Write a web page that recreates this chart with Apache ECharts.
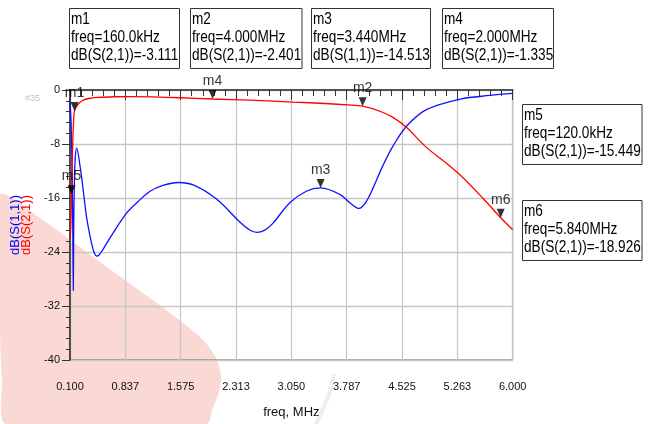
<!DOCTYPE html>
<html>
<head>
<meta charset="utf-8">
<script src="https://cdn.jsdelivr.net/npm/echarts@6/dist/echarts.min.js"></script>
<style>
  html, body { margin: 0; padding: 0; background: #ffffff; }
  #chart { width: 659px; height: 424px; }
</style>
</head>
<body>
<div id="chart"></div>
<script>
// Sweep start (MHz); the x axis runs in MHz above this start so the
// major ticks land on the 0.7375 MHz grid.
const FREQ_START = 0.1;
const FREQ_STEP = 0.7375;
const xTickLabels = ['0.100', '0.837', '1.575', '2.313', '3.050', '3.787', '4.525', '5.263', '6.000'];

// dB(S(1,1)) — input reflection
const s11Freq = [0.100, 0.115, 0.128, 0.138, 0.144, 0.150, 0.158, 0.170, 0.189, 0.233, 0.278, 0.322, 0.389, 0.425,
  0.456, 0.490, 0.540, 0.650, 0.856, 1.000, 1.167, 1.350, 1.544, 1.750, 2.056, 2.367, 2.490, 2.590, 2.690,
  2.800, 3.030, 3.250, 3.440, 3.700, 3.850, 3.950, 4.050, 4.140, 4.270, 4.410, 4.590, 4.850, 5.300, 5.700, 6.000];
const s11Db = [-1.5, -5.0, -12.0, -22.0, -29.7, -20.0, -14.0, -10.0, -8.6, -11.2, -15.0, -18.9, -22.8, -24.2,
  -24.6, -24.4, -23.6, -21.6, -18.2, -16.6, -15.0, -14.1, -13.7, -14.1, -16.2, -19.6, -20.7, -21.1, -20.8,
  -19.8, -16.7, -15.0, -14.513, -15.5, -16.9, -17.55, -16.5, -14.5, -11.2, -8.2, -5.3, -2.9, -1.35, -0.8, -0.5];

// dB(S(2,1)) — forward transmission
const s21Freq = [0.100, 0.110, 0.120, 0.130, 0.140, 0.150, 0.160, 0.193, 0.260, 0.350, 0.480, 0.700, 0.900,
  1.200, 1.567, 2.000, 2.500, 3.077, 3.500, 3.800, 4.000, 4.230, 4.410, 4.590, 4.850, 5.100, 5.300, 5.600,
  5.840, 6.000];
const s21Db = [-22.0, -20.5, -15.449, -10.5, -6.5, -4.2, -3.111, -2.33, -1.6, -1.26, -1.1, -1.0, -0.98,
  -1.02, -1.15, -1.335, -1.5, -1.79, -2.0, -2.2, -2.401, -3.15, -4.1, -5.6, -8.5, -10.7, -12.6, -16.0,
  -18.926, -20.7];

// Markers
const markerNames = ['m1', 'm2', 'm3', 'm4', 'm5', 'm6'];
const markerFreq = [0.16, 4.0, 3.44, 2.0, 0.12, 5.84];
const markerFreqText = ['160.0kHz', '4.000MHz', '3.440MHz', '2.000MHz', '120.0kHz', '5.840MHz'];
const markerTrace = ['dB(S(2,1))', 'dB(S(2,1))', 'dB(S(1,1))', 'dB(S(2,1))', 'dB(S(2,1))', 'dB(S(2,1))'];
const markerDb = [-3.111, -2.401, -14.513, -1.335, -15.449, -18.926];

// Readout box placement: [left, top, width]
const readoutBoxes = [
  [69.5, 8.5, 110], [190.5, 8.5, 111.5], [311.5, 8.5, 119], [442.5, 8.5, 111],
  [522.5, 104.5, 119.5], [522.5, 200.5, 119.5]
];
const READOUT_H = 60;

const FONT = "'Liberation Sans', Arial, Helvetica, sans-serif";
const toXY = (f, d) => [f - FREQ_START, d];

const graphics = [];

// Pale logo shape sitting behind the plot
graphics.push({
  type: 'polygon', z: -10, silent: true,
  shape: { points: [[0, 195], [40, 218], [100, 262], [150, 298], [187, 326], [205, 342], [216, 358],
    [221, 375], [219, 392], [212, 410], [207, 424], [6, 424], [2, 380], [0, 330]], smooth: 0.25 },
  style: { fill: '#fad8d3' }
});
graphics.push({
  type: 'polyline', z: -10, silent: true,
  shape: { points: [[334, 374], [329, 394], [322, 411], [316, 424]], smooth: 0.4 },
  style: { stroke: '#eeeeee', lineWidth: 4, fill: null }
});
graphics.push({
  type: 'text', z: -5, silent: true, x: 25, y: 94,
  style: { text: '#35', fontSize: 9, fontFamily: FONT, fill: 'rgba(140,140,140,0.55)',
    shadowBlur: 3, shadowColor: 'rgba(140,140,140,0.8)' }
});

// Marker readout boxes
markerNames.forEach((name, i) => {
  const [bx, by, bw] = readoutBoxes[i];
  graphics.push({
    type: 'rect', z: 100, silent: true,
    shape: { x: bx, y: by, width: bw, height: READOUT_H },
    style: { fill: '#ffffff', stroke: '#333333', lineWidth: 1 }
  });
  graphics.push({
    type: 'text', z: 101, silent: true,
    x: bx + 1.5, y: by + 2.2, scaleX: 0.8,
    style: {
      text: name + '\nfreq=' + markerFreqText[i] + '\n' + markerTrace[i] + '=' + markerDb[i].toFixed(3),
      fontSize: 17, fontFamily: FONT, fill: '#000000', lineHeight: 17.7,
      align: 'left', verticalAlign: 'top'
    }
  });
});

const chart = echarts.init(document.getElementById('chart'), null, { renderer: 'canvas' });

chart.setOption({
  animation: false,
  backgroundColor: '#ffffff',
  textStyle: { fontFamily: FONT },
  grid: {
    left: 70, top: 90, right: 146.3, bottom: 59,
    show: true, borderColor: '#555555', borderWidth: 1, backgroundColor: 'transparent'
  },
  xAxis: {
    type: 'value', min: 0, max: 6.0 - FREQ_START, interval: FREQ_STEP,
    name: 'freq, MHz', nameLocation: 'middle', nameGap: 46,
    nameTextStyle: { fontSize: 13, color: '#111111', fontFamily: FONT },
    axisLine: { show: true, lineStyle: { color: '#333333', width: 1.6 } },
    axisTick: { show: true, length: 10, lineStyle: { color: '#333333', width: 1 } },
    minorTick: { show: true, splitNumber: 5, length: 6, lineStyle: { color: '#333333', width: 1 } },
    splitLine: { show: true, lineStyle: { color: '#c8c8c8', width: 1.3 } },
    axisLabel: {
      fontSize: 11, color: '#111111', margin: 21, fontFamily: FONT,
      showMinLabel: true, showMaxLabel: true,
      formatter: v => xTickLabels[Math.round(v / FREQ_STEP)]
    }
  },
  yAxis: {
    type: 'value', min: -40, max: 0, interval: 8,
    name: '{a|dB(S(1,1))}\n{b|dB(S(2,1))}', nameLocation: 'middle', nameRotate: 90, nameGap: 33,
    nameTextStyle: {
      fontFamily: FONT,
      rich: {
        a: { color: '#0000ff', fontSize: 13, lineHeight: 11.5, fontFamily: FONT },
        b: { color: '#ff0000', fontSize: 13, lineHeight: 11.5, fontFamily: FONT }
      }
    },
    axisLine: { show: true, lineStyle: { color: '#333333', width: 1.6 } },
    axisTick: { show: true, length: 8, lineStyle: { color: '#333333', width: 1 } },
    minorTick: { show: true, splitNumber: 5, length: 4, lineStyle: { color: '#333333', width: 1 } },
    splitLine: { show: true, lineStyle: { color: '#c8c8c8', width: 1.3 } },
    axisLabel: { fontSize: 11, color: '#111111', margin: 10, fontFamily: FONT }
  },
  series: [
    {
      name: 'dB(S(1,1))', type: 'line', showSymbol: false, smooth: 0.35,
      lineStyle: { color: '#1010ff', width: 1.3 }, itemStyle: { color: '#1010ff' }, z: 3,
      data: s11Freq.map((f, i) => toXY(f, s11Db[i]))
    },
    {
      name: 'dB(S(2,1))', type: 'line', showSymbol: false, smooth: 0.35,
      lineStyle: { color: '#ff0000', width: 1.3 }, itemStyle: { color: '#ff0000' }, z: 4,
      data: s21Freq.map((f, i) => toXY(f, s21Db[i]))
    },
    {
      name: 'markers', type: 'scatter', z: 6, clip: false,
      symbol: 'path://M0,0L10,0L5,10Z', symbolSize: [8, 9], symbolOffset: [0, '-50%'],
      itemStyle: { color: '#000000' },
      label: {
        show: true, position: 'top', distance: 2, fontSize: 14, color: '#000000', fontFamily: FONT,
        formatter: p => p.name
      },
      labelLayout: { hideOverlap: false },
      data: markerNames.map((n, i) => ({ name: n, value: toXY(markerFreq[i], markerDb[i]) }))
    }
  ],
  graphic: graphics
});
</script>
</body>
</html>
